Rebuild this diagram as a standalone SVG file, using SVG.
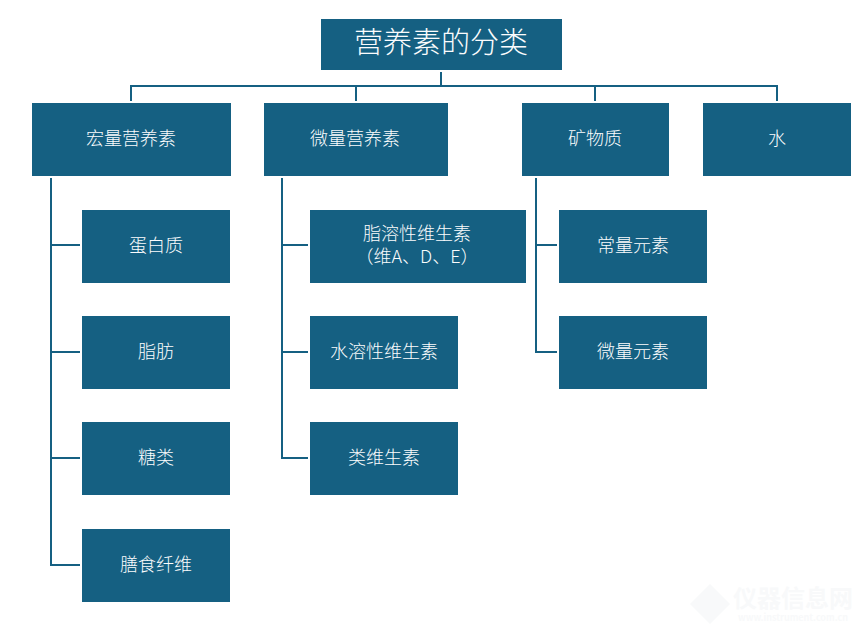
<svg xmlns="http://www.w3.org/2000/svg" width="868" height="637" viewBox="0 0 868 637">
<style>
.b{fill:#156082}
.t{fill:#fbfcfd;font-family:"Noto Sans CJK SC","Liberation Sans",sans-serif;font-size:18px;font-weight:300;text-anchor:middle}
.c{fill:none;stroke:#156082;stroke-width:2}
.w{fill:#f8f9fa;font-family:"Noto Sans CJK SC","Liberation Sans",sans-serif;font-weight:700;text-anchor:middle}
</style>
<rect width="868" height="637" fill="#fff"/>
<g id="connectors" class="c">
<path d="M441 72V86M131 101V86H777V101M356 86V101M595 86V101"/>
<path d="M51 178V565H80M51 245H80M51 352H80M51 458H80"/>
<path d="M282 178V458H308M282 245H308M282 352H308"/>
<path d="M536 178V352H557M536 245H557"/>
</g>
<g id="root"><rect class="b" x="321" y="19" width="241" height="51"/><text class="t" x="441" y="53" style="font-size:29px">营养素的分类</text></g>
<g id="n1"><rect class="b" x="32" y="103" width="199" height="73"/><text class="t" x="131" y="145">宏量营养素</text></g>
<g id="n2"><rect class="b" x="264" y="103" width="184" height="73"/><text class="t" x="355" y="145">微量营养素</text></g>
<g id="n3"><rect class="b" x="522" y="103" width="147" height="73"/><text class="t" x="595" y="145">矿物质</text></g>
<g id="n4"><rect class="b" x="703" y="103" width="148" height="73"/><text class="t" x="777" y="145">水</text></g>
<g id="n1a"><rect class="b" x="82" y="210" width="148" height="73"/><text class="t" x="156" y="252">蛋白质</text></g>
<g id="n1b"><rect class="b" x="82" y="316" width="148" height="73"/><text class="t" x="156" y="358">脂肪</text></g>
<g id="n1c"><rect class="b" x="82" y="422" width="148" height="73"/><text class="t" x="156" y="464">糖类</text></g>
<g id="n1d"><rect class="b" x="82" y="529" width="148" height="73"/><text class="t" x="156" y="571">膳食纤维</text></g>
<g id="n2a"><rect class="b" x="310" y="210" width="216" height="73"/><text class="t"><tspan x="417" y="240">脂溶性维生素</tspan><tspan x="417" y="263">（维A、D、E）</tspan></text></g>
<g id="n2b"><rect class="b" x="310" y="316" width="148" height="73"/><text class="t" x="384" y="358">水溶性维生素</text></g>
<g id="n2c"><rect class="b" x="310" y="422" width="148" height="73"/><text class="t" x="384" y="464">类维生素</text></g>
<g id="n3a"><rect class="b" x="559" y="210" width="148" height="73"/><text class="t" x="633" y="252">常量元素</text></g>
<g id="n3b"><rect class="b" x="559" y="316" width="148" height="73"/><text class="t" x="633" y="358">微量元素</text></g>
<g id="watermark"><path d="M710 584L730 604L710 624L690 604Z" fill="#f8f9fa"/><text class="w"><tspan x="793" y="607" font-size="24">仪器信息网</tspan><tspan x="793" y="621" font-size="9">www.instrument.com.cn</tspan></text></g>
</svg>
